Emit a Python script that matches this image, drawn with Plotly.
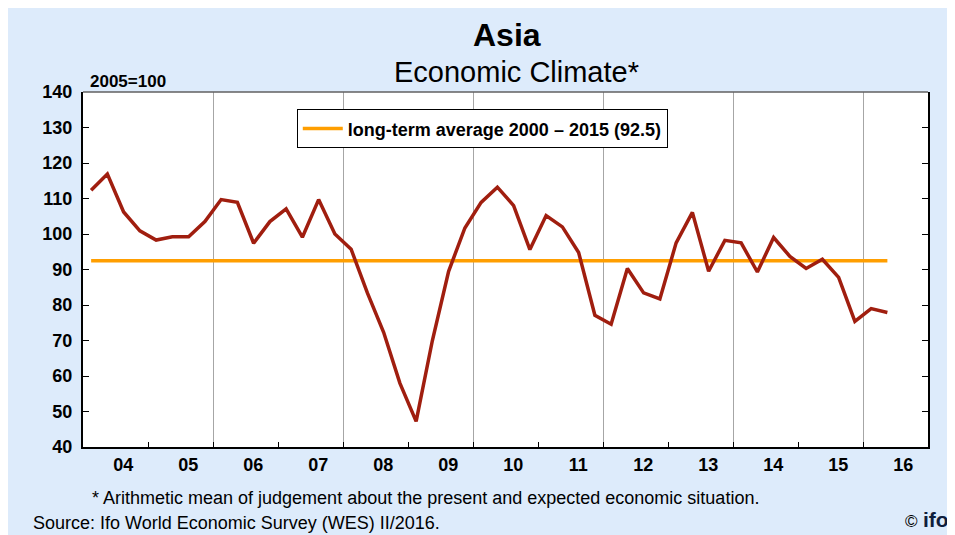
import plotly.graph_objects as go

# quarterly economic climate index, 2004Q1 - 2016Q2 (2005=100)
years = list(range(2004, 2017))
quarters = [y + (q - 0.5) / 4 for y in years for q in range(1, 5)][:50]
climate = [
    112.3, 116.9, 106.2, 100.9,   # 2004
    98.3, 99.2, 99.2, 103.5,      # 2005
    109.7, 108.9, 97.4, 103.5,    # 2006
    107.1, 99.1, 109.7, 100.0,    # 2007
    95.7, 83.4, 72.3, 58.0,       # 2008
    47.2, 70.0, 89.5, 101.7,      # 2009
    108.9, 113.2, 108.0, 95.6,    # 2010
    105.2, 102.0, 94.8, 77.1,     # 2011
    74.6, 90.3, 83.4, 81.7,       # 2012
    97.5, 106.1, 89.5, 98.2,      # 2013
    97.5, 89.3, 99.0, 93.7,       # 2014
    90.3, 92.9, 87.8, 75.4,       # 2015
    79.0, 77.9,                   # 2016
]
long_term_avg = 92.5
year_labels = ["04", "05", "06", "07", "08", "09", "10", "11", "12", "13", "14", "15", "16"]

FONT = "Arial, Liberation Sans, sans-serif"
BG = "#DDEBFB"

fig = go.Figure()
fig.add_trace(go.Scatter(
    x=quarters, y=[long_term_avg] * len(quarters),
    mode="lines", name="long-term average 2000 \u2013 2015 (92.5)",
    line=dict(color="#FF9E00", width=3.5),
))
fig.add_trace(go.Scatter(
    x=quarters, y=climate, mode="lines", showlegend=False,
    line=dict(color="#A01E0F", width=3.5),
))
# invisible trace that carries the year labels on an overlay axis
fig.add_trace(go.Scatter(x=[years[0] + 0.62], y=[None], xaxis="x2",
                         showlegend=False, hoverinfo="skip"))

# page has an 8px body margin; figure is offset by it and runs off the right/bottom
fig.update_layout(
    width=955, height=535,
    margin=dict(l=75, r=35, t=84, b=96),
    paper_bgcolor=BG, plot_bgcolor="white",
    font=dict(family=FONT, color="black"),
    showlegend=True,
    legend=dict(x=0.253, y=0.951, xanchor="left", yanchor="top",
                bgcolor="white", bordercolor="black", borderwidth=1,
                font=dict(size=18, weight="bold"), itemwidth=40),
    xaxis=dict(range=[2004, 2017], tickvals=list(range(2006, 2017, 2)),
               showticklabels=False, ticks="inside", ticklen=5,
               tickcolor="black", showgrid=True, gridcolor="#A6A6A6",
               gridwidth=1.3, showline=True, linecolor="black", linewidth=2,
               zeroline=False,
               minor=dict(tick0=2004, dtick=1, ticks="inside", ticklen=5,
                          tickcolor="black", showgrid=False)),
    xaxis2=dict(range=[2004, 2017], overlaying="x", anchor="y", side="bottom",
                tickvals=[y + 0.62 for y in years], ticktext=year_labels,
                ticks="", showgrid=False, zeroline=False, showline=False,
                ticklabelstandoff=5,
                tickfont=dict(size=18, weight="bold")),
    yaxis=dict(range=[40, 140], dtick=10, ticks="inside", ticklen=6,
               tickcolor="black", showgrid=False, zeroline=False,
               showline=True, linecolor="black", linewidth=2,
               mirror="ticks", ticklabelstandoff=5,
               tickfont=dict(size=18, weight="bold")),
)

# thin top frame line
fig.add_shape(type="line", xref="paper", yref="paper", x0=0, x1=1, y0=1, y1=1,
              line=dict(color="#606060", width=1.5))

annots = [
    dict(text="<b>Asia</b>", x=0.5014, y=1.1606, size=32, xanchor="center"),
    dict(text="Economic Climate*", x=0.513, y=1.0563, size=29, xanchor="center"),
    dict(text="<b>2005=100</b>", x=0.0056, y=1.029, size=17, xanchor="left"),
    dict(text="* Arithmetic mean of judgement about the present and expected economic situation.",
         x=0.0079, y=-0.1437, size=18, xanchor="left"),
    dict(text="Source: Ifo World Economic Survey (WES) II/2016.",
         x=-0.0619, y=-0.2141, size=18, xanchor="left"),
    dict(text="\u00a9", x=0.98, y=-0.211, size=17, xanchor="center"),
    dict(text="<b>ifo</b>", x=0.992, y=-0.205, size=21, xanchor="left",
         color="#0F1E3C"),
]
for a in annots:
    fig.add_annotation(text=a["text"], xref="paper", yref="paper",
                       x=a["x"], y=a["y"], xanchor=a["xanchor"],
                       yanchor="middle", showarrow=False,
                       font=dict(size=a["size"], family=FONT,
                                 color=a.get("color", "black")))

fig.write_html("out.html")
